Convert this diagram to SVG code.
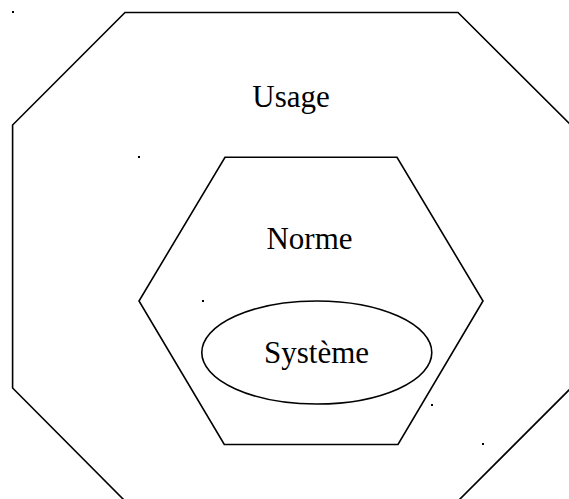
<svg xmlns="http://www.w3.org/2000/svg" width="569" height="499" viewBox="0 0 569 499">
<style>
.shape{fill:none;stroke:#000;stroke-width:1.6;stroke-linejoin:miter}
.lbl{font-family:"Liberation Serif","Times New Roman",serif;font-size:31px;fill:#000;text-anchor:middle}
.dot{fill:#000}
</style>
<rect width="569" height="499" fill="#fff"/>
<g id="usage">
<polygon class="shape" points="125,12.5 458,12.5 571,125 571,388 459,500 124,500 12.6,388 12.6,125"/>
<text class="lbl" x="291" y="107">Usage</text>
</g>
<g id="norme">
<polygon class="shape" points="225,157.3 397,157.3 483,301 398,444.5 224.3,444.5 139,301"/>
<text class="lbl" x="309.5" y="249">Norme</text>
</g>
<g id="systeme">
<ellipse class="shape" cx="316.8" cy="352.5" rx="115" ry="51.5"/>
<text class="lbl" x="316.5" y="363.3">Système</text>
</g>
<g id="marks">
<rect class="dot" x="12" y="11" width="2" height="2"/>
<rect class="dot" x="138" y="156" width="2" height="2"/>
<rect class="dot" x="202" y="300" width="2" height="2"/>
<rect class="dot" x="431" y="404" width="2" height="2"/>
<rect class="dot" x="482" y="443" width="2" height="2"/>
</g>
</svg>
